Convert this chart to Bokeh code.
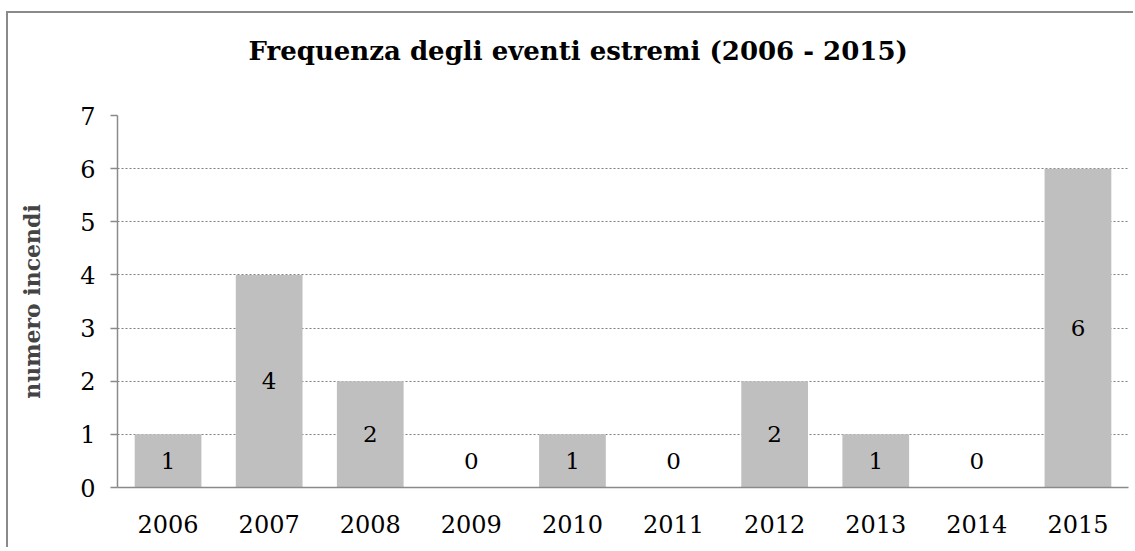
from bokeh.plotting import figure
from bokeh.models import FactorRange, Range1d, FixedTicker, ColumnDataSource, Title
from bokeh.core.properties import value
from bokeh.embed import file_html
from bokeh.resources import INLINE

years = ["2006", "2007", "2008", "2009", "2010", "2011", "2012", "2013", "2014", "2015"]
counts = [1, 4, 2, 0, 1, 0, 2, 1, 0, 6]
title_text = "Frequenza degli eventi estremi (2006 - 2015)"
y_label = "numero incendi"
y_ticks = [0, 1, 2, 3, 4, 5, 6, 7]

FONT = "DejaVu Serif"
GRAY = "#8a8a8a"

label_y = [max(c / 2, 0.5) for c in counts]
src = ColumnDataSource(dict(x=years, top=counts, ly=label_y, txt=[str(c) for c in counts]))

p = figure(width=1127, height=536, x_range=FactorRange(*years), y_range=Range1d(0, 7),
           output_backend="svg", toolbar_location=None,
           min_border_left=109, min_border_right=7, min_border_top=100, min_border_bottom=62)
p.styles = {"border-top": "2px solid #8a8a8a", "border-left": "2px solid #8a8a8a",
            "margin-top": "11px", "margin-left": "6px"}
p.outline_line_color = None
p.background_fill_color = "white"

p.title.text = title_text
p.title.align = "left"
p.title.offset = 131
p.title.standoff = 40
p.title.text_font = FONT
p.title.text_font_style = "bold"
p.title.text_font_size = "26px"
p.title.text_color = "black"

# spacer between title and plot area
p.add_layout(Title(text=" ", text_font_size="2px", standoff=26), "above")

p.vbar(x="x", top="top", width=0.66, source=src, fill_color="#bfbfbf", line_color=None)
p.text(x="x", y="ly", text="txt", source=src, text_align="center", text_baseline="middle",
       text_font=value(FONT), text_font_size="23px", text_color="black")

p.x_range.range_padding = 0
p.xgrid.grid_line_color = None
p.ygrid.grid_line_color = "#7f7f7f"
p.ygrid.grid_line_dash = "2 2"
p.ygrid.grid_line_width = 1
p.yaxis.ticker = FixedTicker(ticks=y_ticks)

for ax in (p.xaxis, p.yaxis):
    ax.axis_line_color = GRAY
    ax.axis_line_width = 1.5
    ax.major_label_text_font = FONT
    ax.major_label_text_font_size = "24px"
    ax.major_label_text_color = "black"
    ax.minor_tick_line_color = None

p.xaxis.major_tick_line_color = None
p.xaxis.major_label_standoff = 21
p.yaxis.major_tick_line_color = GRAY
p.yaxis.major_tick_line_width = 1.5
p.yaxis.major_tick_out = 7
p.yaxis.major_tick_in = 0
p.yaxis.major_label_standoff = 15
p.yaxis.axis_label = y_label
p.yaxis.axis_label_text_font = FONT
p.yaxis.axis_label_text_font_style = "bold"
p.yaxis.axis_label_text_font_size = "22px"
p.yaxis.axis_label_standoff = 32

open("out.html", "w").write(file_html(p, INLINE))
